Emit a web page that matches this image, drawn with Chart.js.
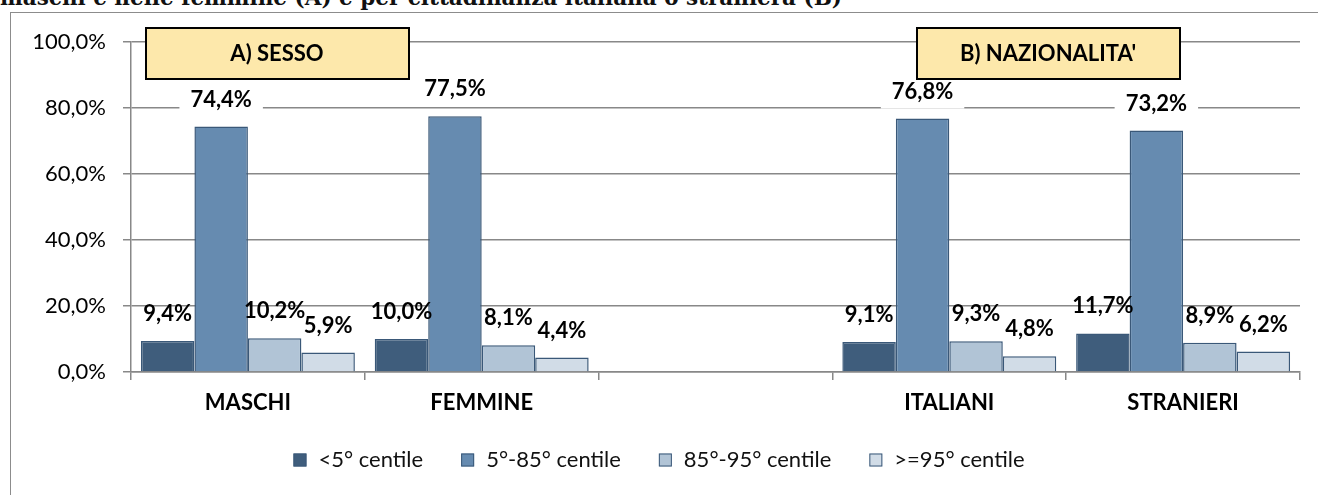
<!DOCTYPE html>
<html>
<head>
<meta charset="utf-8">
<script src="https://cdn.jsdelivr.net/npm/chart.js@4"></script>
<style>
    body { margin: 0; background: #fff; overflow: hidden; }
    #titolo { position: absolute; left: 0; top: -13px; font: bold 21.5px "DejaVu Serif"; line-height: 21px; white-space: nowrap; color: #111; }
    #cornice { position: absolute; left: 10px; top: 12px; width: 1330px; height: 500px; border: 1px solid #8c8c8c; }
    #grafica { position: absolute; left: 0; top: 0; width: 1318px; height: 495px; }
</style>
</head>
<body>
<div id="titolo">maschi e nelle femmine (A) e per cittadinanza italiana o straniera (B)</div>
<div id="cornice"></div>
<div id="grafica"><canvas id="myChart"></canvas></div>
<script>
// dati
let categorie = ["MASCHI", "FEMMINE", "", "ITALIANI", "STRANIERI"];
let nomiSerie = ["<5° centile", "5°-85° centile", "85°-95° centile", ">=95° centile"];
let sotto5 = [9.4, 10.0, null, 9.1, 11.7];
let da5a85 = [74.4, 77.5, null, 76.8, 73.2];
let da85a95 = [10.2, 8.1, null, 9.3, 8.9];
let sopra95 = [5.9, 4.4, null, 4.8, 6.2];
let tickY = [0, 20, 40, 60, 80, 100];
let riquadri = ["A) SESSO", "B) NAZIONALITA'"];

let colori = ["#3f5d7c", "#668bb0", "#b1c4d6", "#d1dce7"];
let valori = [sotto5, da5a85, da85a95, sopra95];

function formato(v) {
    return v.toFixed(1).replace(".", ",") + "%";
}

// etichette sopra le barre
const etichetteValori = {
    id: "etichetteValori",
    afterDatasetsDraw(chart) {
        let ctx = chart.ctx;
        ctx.save();
        ctx.font = "bold 22px Lato";
        ctx.textAlign = "center";
        ctx.textBaseline = "middle";
        chart.data.datasets.forEach((ds, i) => {
            chart.getDatasetMeta(i).data.forEach((bar, j) => {
                let v = ds.data[j];
                if (v == null) return;
                let testo = formato(v);
                let y = bar.y - 27;
                if (v > 50) {
                    let w = ctx.measureText(testo).width + 22;
                    ctx.fillStyle = "#fff";
                    ctx.fillRect(bar.x - w / 2, y - 15, w, 32);
                }
                ctx.fillStyle = "#000";
                ctx.fillText(testo, bar.x, y);
            });
        });
        ctx.restore();
    }
};

// riquadri gialli A) e B)
const riquadriGialli = {
    id: "riquadriGialli",
    afterDraw(chart) {
        let ctx = chart.ctx;
        let a = chart.chartArea;
        let pos = [a.left + 15, a.left + 786];
        ctx.save();
        ctx.font = "bold 22px Lato";
        ctx.textAlign = "center";
        ctx.textBaseline = "middle";
        riquadri.forEach((t, i) => {
            ctx.fillStyle = "#fde8ab";
            ctx.fillRect(pos[i], 28, 263, 51);
            ctx.lineWidth = 2;
            ctx.strokeStyle = "#000";
            ctx.strokeRect(pos[i], 28, 263, 51);
            ctx.fillStyle = "#000";
            ctx.fillText(t, pos[i] + 131, 54);
        });
        ctx.restore();
    }
};

// legenda in basso
const legenda = {
    id: "legenda",
    afterDraw(chart) {
        let ctx = chart.ctx;
        ctx.save();
        ctx.font = "22px Lato";
        ctx.textBaseline = "middle";
        let box = 13, dopoBox = 12, spazio = 38;
        let voci = chart.data.datasets.map(ds => ({ t: ds.label, c: ds.backgroundColor, w: ctx.measureText(ds.label).width }));
        let tot = voci.reduce((s, v) => s + box + dopoBox + v.w, 0) + spazio * (voci.length - 1);
        let x = chart.width / 2 - tot / 2;
        let y = chart.chartArea.bottom + 88;
        voci.forEach(v => {
            ctx.fillStyle = v.c;
            ctx.fillRect(x, y - box / 2, box, box);
            ctx.lineWidth = 1;
            ctx.strokeStyle = "#3a5878";
            ctx.strokeRect(x + 0.5, y - box / 2 + 0.5, box - 1, box - 1);
            ctx.fillStyle = "#111";
            ctx.fillText(v.t, x + box + dopoBox, y);
            x += box + dopoBox + v.w + spazio;
        });
        ctx.restore();
    }
};

new Chart("myChart", {
    type: "bar",
    data: {
        labels: categorie,
        datasets: valori.map((d, i) => ({
            label: nomiSerie[i],
            data: d,
            backgroundColor: colori[i],
            borderColor: "#3a5878",
            borderWidth: 1.5,
            barPercentage: 1,
            categoryPercentage: 0.915
        }))
    },
    options: {
        responsive: true,
        maintainAspectRatio: false,
        animation: false,
        layout: { padding: { top: 42, right: 18, left: 0, bottom: 77 } },
        plugins: {
            legend: { display: false },
            tooltip: { enabled: false }
        },
        scales: {
            x: {
                grid: { drawOnChartArea: false, color: "#888", tickLength: 8, lineWidth: 1.5 },
                border: { color: "#888", width: 1.5 },
                ticks: { color: "#000", padding: 10, font: { family: "Lato", size: 22, weight: "bold" } },
                afterFit: (s) => { s.height = 46; }
            },
            y: {
                min: 0,
                max: 100,
                afterBuildTicks: (s) => { s.ticks = tickY.map(v => ({ value: v })); },
                grid: { color: "#888", tickLength: 8, lineWidth: 1.5 },
                border: { color: "#888", width: 1.5 },
                ticks: {
                    color: "#000",
                    padding: 17,
                    font: { family: "Lato", size: 22 },
                    callback: (v) => formato(v)
                },
                afterFit: (s) => { s.width = 131; }
            }
        }
    },
    plugins: [etichetteValori, riquadriGialli, legenda]
});
</script>
</body>
</html>
